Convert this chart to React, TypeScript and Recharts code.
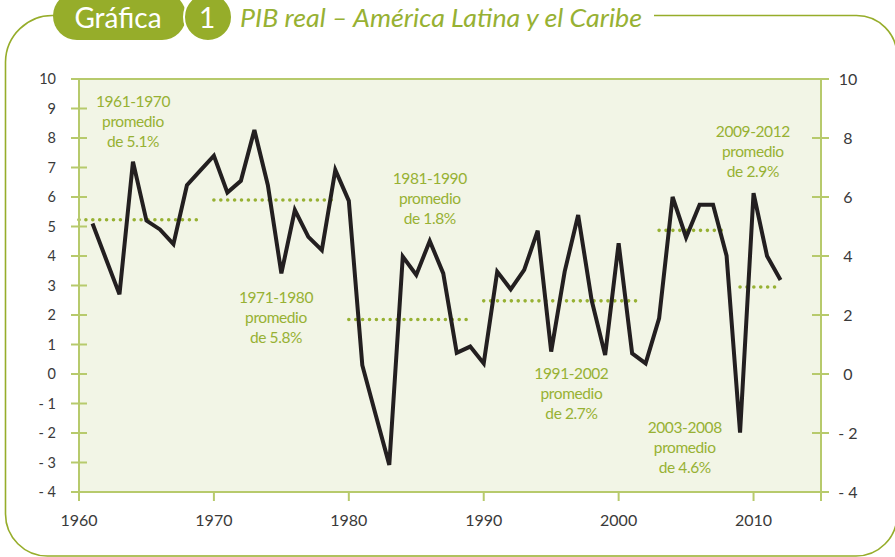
import { LineChart, Line, XAxis, YAxis, CartesianGrid, ReferenceLine, ReferenceDot } from 'recharts';

// PIB real, variación anual (%)
const years = [
  1961, 1962, 1963, 1964, 1965, 1966, 1967, 1968, 1969, 1970,
  1971, 1972, 1973, 1974, 1975, 1976, 1977, 1978, 1979, 1980,
  1981, 1982, 1983, 1984, 1985, 1986, 1987, 1988, 1989, 1990,
  1991, 1992, 1993, 1994, 1995, 1996, 1997, 1998, 1999, 2000,
  2001, 2002, 2003, 2004, 2005, 2006, 2007, 2008, 2009, 2010,
  2011, 2012,
];
const growth = [
  5.1, 3.9, 2.7, 7.2, 5.2, 4.9, 4.4, 6.4, 6.9, 7.4,
  6.15, 6.55, 8.27, 6.4, 3.41, 5.56, 4.65, 4.2, 6.92, 5.87,
  0.3, -1.4, -3.08, 3.98, 3.36, 4.51, 3.41, 0.72, 0.93, 0.36,
  3.47, 2.87, 3.53, 4.86, 0.76, 3.47, 5.39, 2.5, 0.64, 4.43,
  0.7, 0.36, 1.89, 6.0, 4.63, 5.74, 5.74, 4.01, -1.99, 6.13,
  4.0, 3.19,
];

// promedios por periodo (líneas punteadas)
const avgFrom = [1960, 1970, 1980, 1990, 2003, 2009];
const avgTo = [1968.8, 1978.8, 1988.8, 2001.7, 2008, 2012];
const avgValue = [5.23, 5.9, 1.85, 2.48, 4.87, 2.95];

// textos de los periodos
const notePeriod = ['1961-1970', '1971-1980', '1981-1990', '1991-2002', '2003-2008', '2009-2012'];
const noteAvg = ['5.1%', '5.8%', '1.8%', '2.7%', '4.6%', '2.9%'];
const noteYear = [1964.0, 1974.6, 1986.0, 1996.5, 2004.9, 2009.95];
const noteLevel = [9.23, 2.6, 6.63, 0.02, -1.82, 8.21];

const xTicks = [1960, 1970, 1980, 1990, 2000, 2010, 2015];
const leftTicks = [-4, -3, -2, -1, 0, 1, 2, 3, 4, 5, 6, 7, 8, 9, 10];
const rightTicks = [-4, -2, 0, 2, 4, 6, 8, 10];

const W = 895;
const H = 557;
const MARGIN = { top: 79, right: 34, bottom: 35, left: 39 };
const Y_W = 40;
const X_H = 30;
const PLOT_LEFT = MARGIN.left + Y_W;
const PLOT_RIGHT = W - MARGIN.right - Y_W;
const PLOT_BOTTOM = H - MARGIN.bottom - X_H;

const GREEN = '#97b133';
const PILL = '#96ad2a';
const AXIS = '#b7ca6c';
const BG = '#f2f5e6';
const TEXT = '#3a3a3a';
const FONT = 'Lato, "Open Sans", sans-serif';

const series = years.map((year, i) => ({ year, value: growth[i] }));

const fmt = (v: number) => (v < 0 ? `- ${Math.abs(v)}` : `${v}`);

function LeftTick({ y, payload }: any) {
  return (
    <g>
      <line x1={PLOT_LEFT - 8} x2={PLOT_LEFT + 8} y1={y} y2={y} stroke={AXIS} strokeWidth={2} />
      <text x={PLOT_LEFT - 23} y={y} dy="0.35em" textAnchor="end" fill={TEXT} fontSize={14.5} fontFamily={FONT}>
        {fmt(payload.value)}
      </text>
    </g>
  );
}

function RightTick({ y, payload }: any) {
  return (
    <g>
      <line x1={PLOT_RIGHT - 9} x2={PLOT_RIGHT + 8} y1={y} y2={y} stroke={AXIS} strokeWidth={2} />
      <text x={PLOT_RIGHT + 27} y={y} dy="0.35em" textAnchor="middle" fill={TEXT} fontSize={16} fontFamily={FONT}>
        {fmt(payload.value)}
      </text>
    </g>
  );
}

function BottomTick({ x, payload }: any) {
  return (
    <g>
      <line x1={x} x2={x} y1={PLOT_BOTTOM} y2={PLOT_BOTTOM + 9} stroke={AXIS} strokeWidth={2} />
      {payload.value < 2015 && (
        <text x={x} y={PLOT_BOTTOM + 28} dy="0.35em" textAnchor="middle" fill={TEXT} fontSize={16} fontFamily={FONT}>
          {payload.value}
        </text>
      )}
    </g>
  );
}

function NoteLabel({ viewBox, period, avg }: any) {
  const cx = viewBox.x + (viewBox.width || 0) / 2;
  const cy = viewBox.y + (viewBox.height || 0) / 2;
  return (
    <text x={cx} y={cy} textAnchor="middle" fill={GREEN} fontSize={15.5} fontFamily={FONT} letterSpacing={-0.4}>
      <tspan x={cx} dy="0.35em">{period}</tspan>
      <tspan x={cx} dy={20}>promedio</tspan>
      <tspan x={cx} dy={20}>de {avg}</tspan>
    </text>
  );
}

function Frame() {
  return (
    <svg width={W} height={H} style={{ position: 'absolute', left: 0, top: 0, pointerEvents: 'none' }}>
      <path
        d="M 54 15.5 A 47 47 0 0 0 5.5 62 L 5.5 514 A 42 42 0 0 0 47.5 556 L 856 556 A 41 41 0 0 0 897 515 L 897 56 A 40.5 40.5 0 0 0 856.5 15.5 L 654 15.5"
        fill="none"
        stroke={PILL}
        strokeWidth={1.6}
      />
      <rect x={53} y={-8} width={133} height={48} rx={24} fill={PILL} />
      <circle cx={208} cy={17} r={24} fill={PILL} stroke="#ffffff" strokeWidth={2} />
      <text x={118} y={28} textAnchor="middle" fill="#ffffff" fontSize={28} fontFamily={FONT}>
        Gráfica
      </text>
      <text x={207} y={28} textAnchor="middle" fill="#ffffff" fontSize={28} fontFamily={FONT}>
        1
      </text>
      <text
        x={240}
        y={27}
        fill={GREEN}
        fontSize={25}
        fontStyle="italic"
        fontFamily={FONT}
        textLength={402}
        lengthAdjust="spacingAndGlyphs"
      >
        PIB real – América Latina y el Caribe
      </text>
    </svg>
  );
}

export default function App() {
  return (
    <div style={{ position: 'absolute', left: 0, top: 0, width: W, height: H, background: '#ffffff' }}>
      <LineChart width={W} height={H} data={series} margin={MARGIN}>
        <CartesianGrid yAxisId="left" fill={BG} stroke="none" horizontal={false} vertical={false} />
        <XAxis
          dataKey="year"
          type="number"
          domain={[1960, 2015]}
          ticks={xTicks}
          height={X_H}
          axisLine={{ stroke: AXIS, strokeWidth: 2 }}
          tickLine={false}
          tick={<BottomTick />}
          interval={0}
        />
        <YAxis
          yAxisId="left"
          domain={[-4, 10]}
          ticks={leftTicks}
          width={Y_W}
          axisLine={{ stroke: AXIS, strokeWidth: 2 }}
          tickLine={false}
          tick={<LeftTick />}
          interval={0}
        />
        <YAxis
          yAxisId="right"
          orientation="right"
          domain={[-4, 10]}
          ticks={rightTicks}
          width={Y_W}
          axisLine={{ stroke: AXIS, strokeWidth: 2 }}
          tickLine={false}
          tick={<RightTick />}
          interval={0}
        />
        <ReferenceLine yAxisId="left" y={10} stroke={AXIS} strokeWidth={2} />
        {avgValue.map((v, i) => (
          <Line
            key={`avg-${i}`}
            yAxisId="right"
            data={[
              { year: avgFrom[i], value: v },
              { year: avgTo[i], value: v },
            ]}
            dataKey="value"
            type="linear"
            stroke={GREEN}
            strokeWidth={3.6}
            strokeDasharray="0 6.9"
            strokeLinecap="round"
            dot={false}
            activeDot={false}
            isAnimationActive={false}
          />
        ))}
        <Line
          yAxisId="left"
          dataKey="value"
          type="linear"
          stroke="#231f20"
          strokeWidth={4}
          strokeLinejoin="miter"
          dot={false}
          activeDot={false}
          isAnimationActive={false}
        />
        {notePeriod.map((p, i) => (
          <ReferenceDot
            key={`note-${i}`}
            yAxisId="left"
            x={noteYear[i]}
            y={noteLevel[i]}
            r={0}
            fill="none"
            stroke="none"
            label={<NoteLabel period={p} avg={noteAvg[i]} />}
          />
        ))}
      </LineChart>
      <Frame />
    </div>
  );
}
